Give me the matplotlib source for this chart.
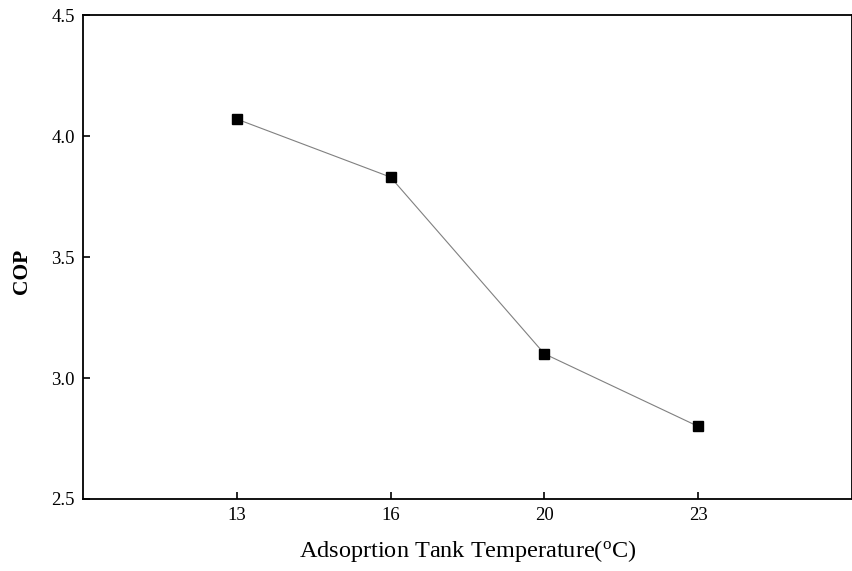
import matplotlib
matplotlib.use('Agg')
import matplotlib.pyplot as plt

plt.rcParams['font.family'] = ['Liberation Serif', 'DejaVu Serif']
plt.rcParams['mathtext.fontset'] = 'custom'
plt.rcParams['mathtext.rm'] = 'Liberation Serif'

# data
temps = ['13', '16', '20', '23']
cop = [4.07, 3.83, 3.10, 2.80]
x = [1, 2, 3, 4]

fig = plt.figure(figsize=(8.53, 5.71), dpi=100)
ax = fig.add_axes([0.0973, 0.1261, 0.9015, 0.8476])

ax.plot(x, cop, '-', color='#808080', linewidth=0.8, zorder=2)
ax.plot(x, cop, 's', color='black', markersize=7.5, zorder=3)

ax.set_xlim(0, 5)
ax.set_ylim(2.5, 4.5)
ax.set_xticks(x)
ax.set_xticklabels(temps)
ax.set_yticks([2.5, 3.0, 3.5, 4.0, 4.5])
ax.set_yticklabels(['2.5', '3.0', '3.5', '4.0', '4.5'])
ax.tick_params(direction='in', length=5, width=1.2, labelsize=13.5, colors='black', pad=6)

for s in ax.spines.values():
    s.set_linewidth(1.3)

ax.set_xlabel(r'Adsoprtion Tank Temperature($\mathregular{^o}$C)', fontsize=17.5, labelpad=10)
ax.set_ylabel('COP', fontsize=15.5, fontweight='bold')
ax.yaxis.set_label_coords(-0.066, 0.47)

fig.savefig('out.png', dpi=100)
